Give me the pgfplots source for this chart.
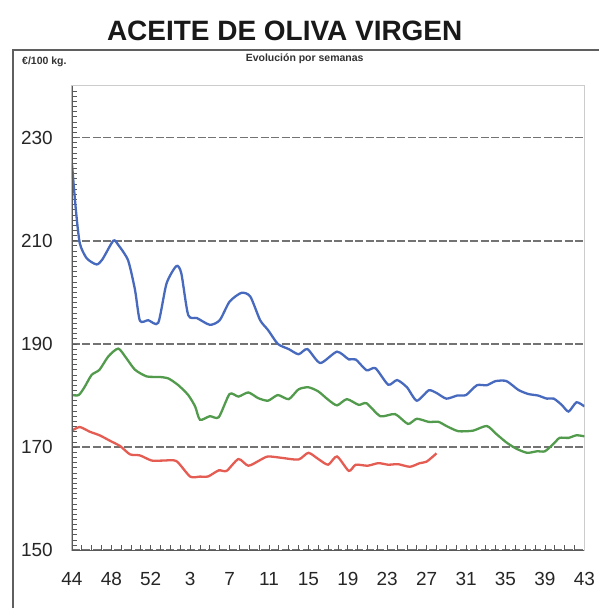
\documentclass[border=0pt]{standalone}
\usepackage{pgfplots}
\pgfplotsset{compat=1.18}
\usepackage{fontspec}
\setmainfont{Liberation Sans}
\definecolor{cblue}{RGB}{72,106,190}
\definecolor{cgreen}{RGB}{82,155,76}
\definecolor{cred}{RGB}{228,92,82}
\definecolor{frame}{RGB}{95,95,95}
\begin{document}
\begin{tikzpicture}
\path[fill=white] (0bp,0bp) rectangle (600bp,609bp);
\draw[line width=1.4bp, color=frame] (13bp,0bp) -- (13bp,559bp) -- (600bp,559bp);
\node[anchor=base, inner sep=0pt, font=\fontsize{28bp}{32bp}\selectfont\bfseries, text=black!90] at (285bp,568bp) {ACEITE DE OLIVA VIRGEN};
\node[anchor=base, inner sep=0pt, font=\fontsize{10.5bp}{12bp}\selectfont\bfseries, text=black!80] at (305bp,547bp) {Evolución por semanas};
\node[anchor=base west, inner sep=0pt, font=\fontsize{10.5bp}{12bp}\selectfont\bfseries, text=black!80] at (22bp,544bp) {€/100 kg.};
\begin{axis}[
  at={(72bp,58bp)}, anchor=south west,
  scale only axis, width=513bp, height=465bp,
  xmin=0, xmax=52, ymin=150, ymax=240,
  axis line style={draw=black!20, line width=1bp},
  tick style={draw=black!65, line width=0.8bp},
  major tick length=5bp, minor tick length=5bp,
  tick align=inside,
  xtick pos=bottom, ytick pos=left,
  xtick={0,4,...,52},
  xticklabels={44,48,52,3,7,11,15,19,23,27,31,35,39,43},
  minor xtick={0,1,...,52},
  ytick={150,170,190,210,230},
  yticklabels={150,170,190,210,230},
  minor ytick={150,151,...,240},
  ymajorgrids,
  major grid style={dash pattern=on 8bp off 2.5bp, draw=black!55, line width=1.8bp},
  xticklabel style={font=\fontsize{19bp}{22bp}\selectfont, text=black!85, inner sep=0pt, anchor=north, yshift=-22bp},
  yticklabel style={font=\fontsize{19bp}{22bp}\selectfont, text=black!85, inner sep=0pt, anchor=east, xshift=-19bp},
]
\addplot[cred, line width=2.3bp, smooth, tension=0.4] coordinates {
(0,173.2) (0.8,173.9) (1.8,173.0) (2.8,172.3) (3.9,171.2) (4.9,170.2) (5.9,168.6) (6.9,168.4)
(8.1,167.4) (9.3,167.4) (10.6,167.3) (12.0,164.3) (13.0,164.3) (13.8,164.3) (14.9,165.5)
(15.7,165.4) (16.9,167.7) (17.9,166.4) (19.1,167.5) (19.9,168.2) (21.4,167.9) (23.0,167.6)
(24.0,168.9) (25.0,167.7) (26.0,166.6) (26.9,168.2) (28.1,165.4) (28.8,166.6) (30.0,166.4)
(31.1,166.9) (32.1,166.6) (33.1,166.7) (34.3,166.2) (35.3,166.9) (36.0,167.2) (37.0,168.8)
};
\addplot[cgreen, line width=2.3bp, smooth, tension=0.4] coordinates {
(0,180.1) (0.7,180.1) (1.3,181.7) (2.0,184.0) (2.8,185.0) (3.7,187.6) (4.7,189.1) (5.5,187.3)
(6.4,185.0) (7.6,183.7) (8.9,183.6) (9.8,183.3) (10.8,182.0) (11.8,180.1) (12.5,177.9)
(13.0,175.3) (14.0,176.0) (14.9,175.8) (16.0,180.3) (16.9,179.8) (17.9,180.6) (18.9,179.5)
(19.9,179.0) (20.9,180.1) (22.0,179.3) (23.0,181.2) (24.0,181.6) (25.0,180.8) (26.0,179.2)
(26.9,178.1) (27.9,179.3) (29.1,178.2) (29.9,178.5) (31.3,176.0) (32.8,176.4) (34.1,174.5)
(35.0,175.5) (36.2,174.9) (37.2,174.9) (38.0,174.1) (39.2,173.1) (40.7,173.2) (42.1,174.1)
(43.1,172.5) (44.1,170.9) (45.1,169.7) (46.2,168.9) (47.2,169.2) (48.0,169.2) (48.9,170.7)
(49.5,171.8) (50.4,171.8) (51.2,172.3) (52,172.1)
};
\addplot[cblue, line width=2.3bp, smooth, tension=0.4] coordinates {
(0,225.0) (0.4,216.0) (0.8,209.5) (1.5,206.6) (2.5,205.4) (3.1,206.4) (4.2,210.0) (4.7,209.2)
(5.7,206.2) (6.4,200.5) (6.9,194.5) (7.75,194.6) (8.76,194.1) (9.6,201.7) (10.6,205.1)
(11.1,203.7) (11.8,195.6) (12.7,195.0) (14.0,193.7) (15.0,194.6) (16.0,198.2) (17.2,199.9)
(18.1,199.2) (19.1,194.6) (19.9,192.7) (20.9,190.0) (22.0,189.0) (23.0,188.0) (23.9,189.0)
(25.2,186.3) (26.9,188.5) (28.1,187.0) (28.8,187.0) (29.9,184.9) (30.8,185.3) (32.1,182.1)
(33.0,183.0) (34.0,181.6) (35.0,179.0) (36.2,181.0) (37.0,180.5) (38.0,179.4) (39.1,180.0)
(40.0,180.1) (41.1,182.0) (42.1,182.0) (43.0,182.8) (44.1,182.8) (45.3,181.1) (46.3,180.3)
(47.3,180.0) (48.2,179.4) (48.9,179.4) (49.7,178.2) (50.4,176.9) (51.2,178.7) (52,177.9)
};
\draw[black!65, line width=1.2bp] (rel axis cs:0,1) -- (rel axis cs:0,0) -- (rel axis cs:1,0);
\end{axis}
\end{tikzpicture}
\end{document}
